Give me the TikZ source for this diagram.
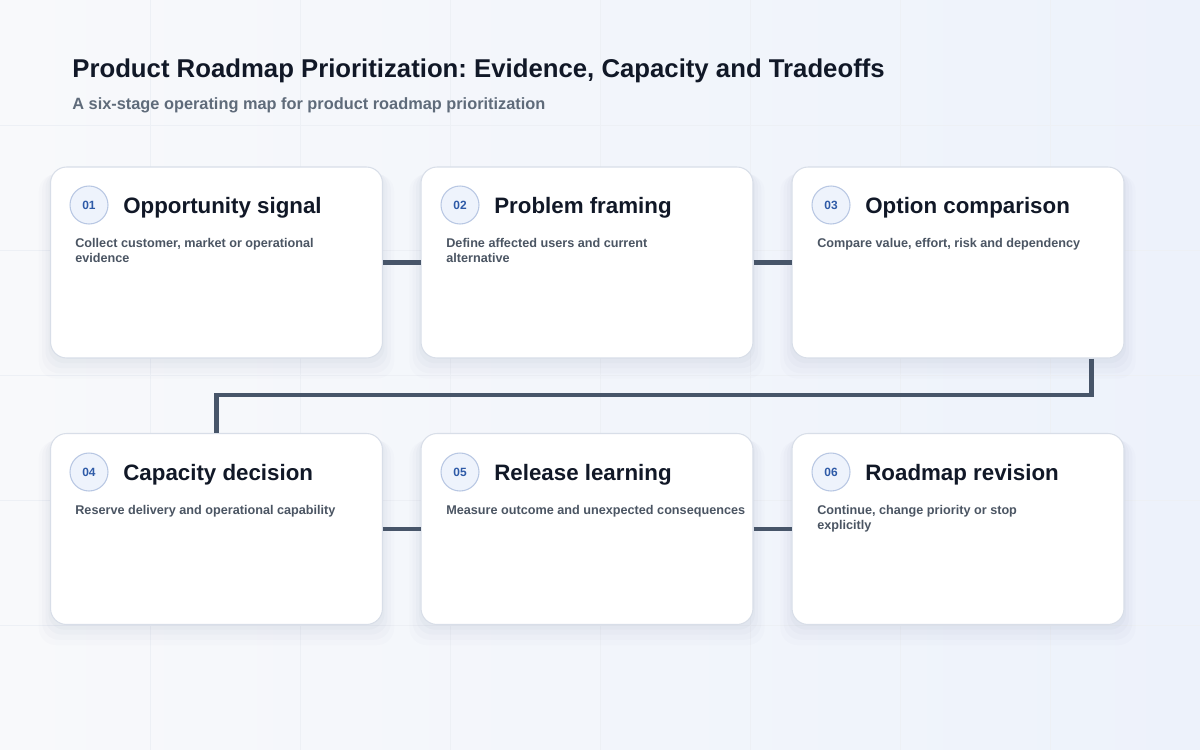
\documentclass[tikz,border=0pt]{standalone}
\usepackage{fontspec}
\setmainfont{Liberation Sans}
\usetikzlibrary{calc,shadows}
\frenchspacing

\definecolor{bgleft}{HTML}{F8F9FB}
\definecolor{bgright}{HTML}{EDF2FB}
\definecolor{gridline}{HTML}{EDF0F5}
\definecolor{cardline}{HTML}{D8DEE8}
\definecolor{shadowc}{HTML}{7A88A6}
\definecolor{badgefill}{HTML}{EEF3FC}
\definecolor{badgeline}{HTML}{B8C7E3}
\definecolor{badgetext}{HTML}{2E5AA7}
\definecolor{linkc}{HTML}{475569}
\definecolor{titlec}{HTML}{111827}
\definecolor{subc}{HTML}{5F6B7A}
\definecolor{descc}{HTML}{4B5563}

\tikzset{
  card/.style={draw=cardline, fill=white, line width=0.6pt, rounded corners=0.32cm,
    minimum width=6.64cm, minimum height=3.82cm,
    general shadow={fill=shadowc, opacity=0.025, shadow yshift=-0.26cm, shadow scale=1.07},
    general shadow={fill=shadowc, opacity=0.03, shadow yshift=-0.2cm, shadow scale=1.05},
    general shadow={fill=shadowc, opacity=0.035, shadow yshift=-0.14cm, shadow scale=1.03},
    general shadow={fill=shadowc, opacity=0.04, shadow yshift=-0.08cm, shadow scale=1.012}},
  badge/.style={circle, draw=badgeline, fill=badgefill, line width=0.6pt, minimum size=0.76cm,
    inner sep=0pt, text=badgetext, font=\fontsize{6.8}{8}\selectfont\bfseries},
  head/.style={anchor=base west, inner sep=0pt, text=titlec, font=\fontsize{12.7}{15}\selectfont\bfseries},
  desc/.style={anchor=north west, inner sep=0pt, align=left, text=descc,
    font=\fontsize{7.2}{8.5}\selectfont\bfseries},
  link/.style={draw=linkc, line width=2.3pt}
}

\begin{document}
\begin{tikzpicture}[x=0.02cm,y=-0.02cm]
% background
\shade[left color=bgleft, right color=bgright] (0,0) rectangle (1200,750);
\useasboundingbox (0,0) rectangle (1200,750);
\foreach \gx in {150,300,...,1050} \draw[gridline, line width=0.4pt] (\gx,0) -- (\gx,750);
\foreach \gy in {125,250,...,625} \draw[gridline, line width=0.4pt] (0,\gy) -- (1200,\gy);

% title
\node[anchor=base west, inner sep=0pt, text=titlec, font=\fontsize{14.65}{17}\selectfont\bfseries] (title) at (72,78)
  {Product Roadmap Prioritization: Evidence, Capacity and Tradeoffs};
\node[anchor=base west, inner sep=0pt, text=subc, font=\fontsize{9.3}{11}\selectfont\bfseries] (subtitle) at (72,110)
  {A six-stage operating map for product roadmap prioritization};

% cards
\node[card] (c1) at (216.5,262.5) {};
\node[card] (c2) at (587,262.5) {};
\node[card] (c3) at (958,262.5) {};
\node[card] (c4) at (216.5,529) {};
\node[card] (c5) at (587,529) {};
\node[card] (c6) at (958,529) {};

% connectors
\draw[link] (c1.east) -- (c2.west);
\draw[link] (c2.east) -- (c3.west);
\draw[link] ($(c3.south east)+(-33,0)$) |- ($(c4.north)+(0,-38)$) -- (c4.north);
\draw[link] (c4.east) -- (c5.west);
\draw[link] (c5.east) -- (c6.west);

% card contents
\node[badge] (b1) at (89,205) {01};
\node[head] (h1) at (123,213) {Opportunity signal};
\node[desc] (d1) at (75,238) {Collect customer, market or operational\\evidence};

\node[badge] (b2) at (460,205) {02};
\node[head] (h2) at (494,213) {Problem framing};
\node[desc] (d2) at (446,238) {Define affected users and current\\alternative};

\node[badge] (b3) at (831,205) {03};
\node[head] (h3) at (865,213) {Option comparison};
\node[desc] (d3) at (817,238) {Compare value, effort, risk and dependency};

\node[badge] (b4) at (89,472) {04};
\node[head] (h4) at (123,480) {Capacity decision};
\node[desc] (d4) at (75,505) {Reserve delivery and operational capability};

\node[badge] (b5) at (460,472) {05};
\node[head] (h5) at (494,480) {Release learning};
\node[desc] (d5) at (446,505) {Measure outcome and unexpected consequences};

\node[badge] (b6) at (831,472) {06};
\node[head] (h6) at (865,480) {Roadmap revision};
\node[desc] (d6) at (817,505) {Continue, change priority or stop\\explicitly};
\end{tikzpicture}
\end{document}
